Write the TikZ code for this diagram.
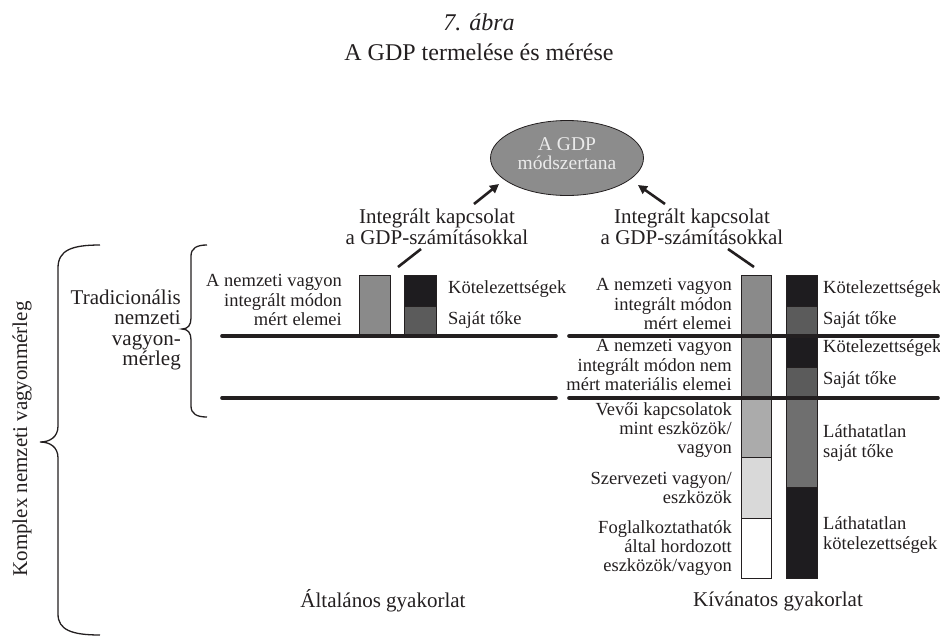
\documentclass[tikz,border=0pt]{standalone}
\usepackage{fontspec}
\setmainfont{Liberation Serif}
\usetikzlibrary{arrows.meta,shapes.geometric}
\definecolor{ink}{HTML}{231F20}
\definecolor{ellfill}{HTML}{8C8C8C}
\definecolor{barmid}{HTML}{8A8A8A}
\definecolor{barblack}{HTML}{1E1C1F}
\definecolor{bardark}{HTML}{5B5B5B}
\definecolor{barinv}{HTML}{6F6F6F}
\definecolor{barlight}{HTML}{ABABAB}
\definecolor{barlighter}{HTML}{D9D9D9}
\tikzset{
  sidetxt/.style={font=\fontsize{18.5}{19.2}\selectfont, text=ink, inner sep=0pt},
  bigtxt/.style={font=\fontsize{21}{20.5}\selectfont, text=ink, inner sep=0pt},
  bar/.style={draw=ink, line width=0.8pt},
  thickline/.style={draw=ink, line width=3.6pt, line cap=round},
  linkarrow/.style={draw=ink, line width=2.6pt, -{Triangle[length=9pt,width=9pt]}},
  linkline/.style={draw=ink, line width=2.6pt},
  brace/.style={draw=ink, line width=1.3pt}
}
\begin{document}
\begin{tikzpicture}[x=1pt,y=-1pt]
\useasboundingbox (0,0) rectangle (940,638);

% titles
\node[font=\fontsize{24}{26}\selectfont\itshape, text=ink, inner sep=0pt] (fig) at (479,22) {7. ábra};
\node[font=\fontsize{24}{26}\selectfont, text=ink, inner sep=0pt] (title) at (479,52) {A GDP termelése és mérése};

% ellipse
\node[ellipse, draw=ink, line width=0.8pt, fill=ellfill, minimum width=153pt, minimum height=75pt,
      align=center, text=white!92!black, font=\fontsize{19.5}{19}\selectfont, inner sep=0pt] (gdp) at (567,158) {};
\node[align=center, text=white!92!black, font=\fontsize{19.5}{19}\selectfont, inner sep=0pt] (gdptxt) at (gdp.center) [yshift=4pt] {A GDP\\módszertana};

% integration labels
\node[bigtxt, align=center] (intL) at (437,227) {Integrált kapcsolat\\a GDP-számításokkal};
\node[bigtxt, align=center] (intR) at (692,227) {Integrált kapcsolat\\a GDP-számításokkal};

% arrows to ellipse
\coordinate (aL1) at (474,204); \coordinate (aL2) at (499,184);
\coordinate (aR1) at (665,204); \coordinate (aR2) at (638,185);
\draw[linkarrow] (aL1) -- (aL2);
\draw[linkarrow] (aR1) -- (aR2);

% short link lines from labels to bars
\coordinate (sL1) at (421,249); \coordinate (sL2) at (398,267);
\coordinate (sR1) at (728,249); \coordinate (sR2) at (754,267);
\draw[linkline] (sL1) -- (sL2);
\draw[linkline] (sR1) -- (sR2);

% ---- left section (Altalanos) bars
\filldraw[bar, fill=barmid] (359,275) rectangle (390,336);
\filldraw[bar, fill=barblack] (404,275) rectangle (436,306);
\filldraw[bar, fill=bardark] (404,306) rectangle (436,336);

% ---- right section (Kivanatos) bars
\filldraw[bar, fill=barmid] (741,275) rectangle (771,398);
\filldraw[bar, fill=barlight] (741,398) rectangle (771,457);
\filldraw[bar, fill=barlighter] (741,457) rectangle (771,518);
\filldraw[bar, fill=white] (741,518) rectangle (771,578);

\filldraw[bar, fill=barblack] (786,275) rectangle (817,306);
\filldraw[bar, fill=bardark] (786,306) rectangle (817,336);
\filldraw[bar, fill=barblack] (786,336) rectangle (817,367);
\filldraw[bar, fill=bardark] (786,367) rectangle (817,398);
\filldraw[bar, fill=barinv] (786,398) rectangle (817,487);
\filldraw[bar, fill=barblack] (786,487) rectangle (817,578);

% horizontal thick lines
\coordinate (h1a) at (222,336); \coordinate (h1b) at (556,336);
\coordinate (h1c) at (569,336); \coordinate (h1d) at (938,336);
\coordinate (h2a) at (222,398); \coordinate (h2b) at (556,398);
\coordinate (h2c) at (569,398); \coordinate (h2d) at (938,398);
\draw[thickline] (h1a) -- (h1b);
\draw[thickline] (h1c) -- (h1d);
\draw[thickline] (h2a) -- (h2b);
\draw[thickline] (h2c) -- (h2d);

% left section texts
\node[sidetxt, align=right, anchor=east] (lA) at (342,300) {A nemzeti vagyon\\integrált módon\\mért elemei};
\node[sidetxt, anchor=west] (lK) at (448,289) {Kötelezettségek};
\node[sidetxt, anchor=west] (lS) at (448,320) {Saját tőke};

% right section texts (left of bars)
\node[sidetxt, align=right, anchor=east] (rA) at (732,304) {A nemzeti vagyon\\integrált módon\\mért elemei};
\node[sidetxt, align=right, anchor=east] (rB) at (732,365) {A nemzeti vagyon\\integrált módon nem\\mért materiális elemei};
\node[sidetxt, align=right, anchor=east] (rC) at (732,430) {Vevői kapcsolatok\\mint eszközök/\\vagyon\ };
\node[sidetxt, align=right, anchor=east] (rD) at (732,488) {Szervezeti vagyon/\\eszközök};
\node[sidetxt, align=right, anchor=east] (rE) at (732,548) {Foglalkoztathatók\\által hordozott\\eszközök/vagyon};

% right section texts (right of bars)
\node[sidetxt, anchor=west] (rK1) at (823,289) {Kötelezettségek};
\node[sidetxt, anchor=west] (rS1) at (823,320) {Saját tőke};
\node[sidetxt, anchor=west] (rK2) at (823,348) {Kötelezettségek};
\node[sidetxt, anchor=west] (rS2) at (823,380) {Saját tőke};
\node[sidetxt, align=left, anchor=west] (rL1) at (823,443) {Láthatatlan\\saját tőke};
\node[sidetxt, align=left, anchor=west] (rL2) at (823,535) {Láthatatlan\\kötelezettségek};

% bottom labels
\node[bigtxt] (alt) at (383,601) {Általános gyakorlat};
\node[bigtxt] (kiv) at (778,601) {Kívánatos gyakorlat};

% traditional label
\node[bigtxt, align=right, anchor=east] (trad) at (181,330) {Tradicionális\\nemzeti\\vagyon-\\mérleg};

% complex label
\node[bigtxt, rotate=90] (komplex) at (22,439) {Komplex nemzeti vagyonmérleg};

% big brace
\draw[brace] (100,245) .. controls (72,245) and (58,250) .. (58,268) -- (58,426)
   .. controls (58,437) and (50,442) .. (40,442)
   .. controls (50,442) and (58,447) .. (58,458) -- (58,614)
   .. controls (58,630) and (72,635) .. (100,635);

% small brace
\draw[brace] (207,245) .. controls (197,245) and (191,248) .. (191,256) -- (191,318)
   .. controls (191,325) and (188,329) .. (182,329)
   .. controls (188,329) and (191,333) .. (191,340) -- (191,406)
   .. controls (191,414) and (197,417) .. (207,417);
\end{tikzpicture}
\end{document}
